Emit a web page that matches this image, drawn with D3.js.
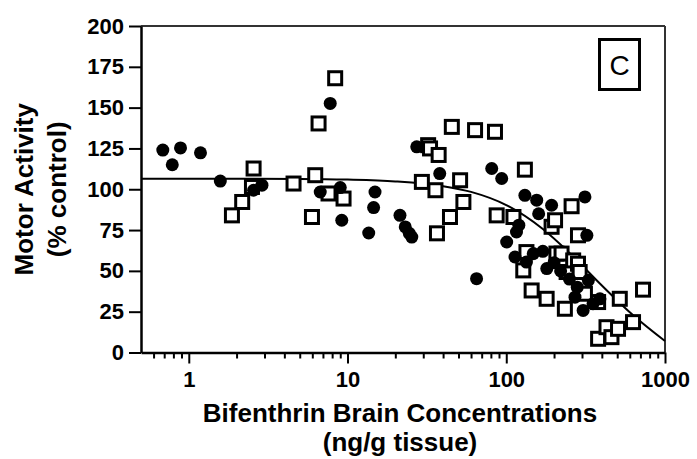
<!DOCTYPE html>
<html><head><meta charset="utf-8">
<script src="https://cdn.jsdelivr.net/npm/d3@7/dist/d3.min.js"></script>
<style>body{margin:0;background:#fff}svg{display:block}text{font-family:"Liberation Sans",Arial,sans-serif}</style>
</head><body>
<svg id="c" width="697" height="459"></svg>
<script>
// filled circles: [concentration ng/g, % control]
const circleConc = [0.686,0.787,0.887,1.185,1.58,2.56,2.89,6.73,7.78,9.0,9.2,13.6,14.6,14.9,21.4,23.1,24.5,25.4,27.3,38.1,65,81,93.6,100.6,113.5,116,120,131,134,148,155.5,160,170,180,193,200,220,250,271,280,305,313,322,329,352,389];
const circleAct  = [124,115,125.3,122.3,105,99.4,102.5,98.3,152.6,101,81,73.2,88.8,98.3,84,76.9,73,70.7,126,109.6,45.2,112.7,106.6,67.7,58.5,73.8,78,96.3,55.4,60.6,93.3,85,62,51.4,90.2,55,50,45,33.9,40,25.8,95.3,71.8,44.2,29.9,32.9];
// open squares
const squareConc = [1.87,2.17,2.5,2.56,4.57,5.97,6.26,6.57,7.59,8.36,9.44,29.4,32.2,33.1,35.8,36.6,37.5,44.2,45.4,51.2,53.7,63.6,84.9,87,111,128,131,134,144.5,179.6,193,203,207,223,234,240,258,264,283,283,290,313,379,379,428,460,506,519,629,727];
const squareAct  = [84,92.2,101.4,112.7,103.5,83,108.6,140.3,97.4,168,94.3,104.5,127,125,99.4,73,121,83,138.2,105.5,92.2,136.2,135.2,84,83,50.3,112,61.5,38,32.9,77,81,60.6,60.6,26.8,49.3,89.6,56.4,71.8,54.4,49.3,36,30.9,8.4,15.5,9.4,14.5,32.9,18.6,38.5];
// fitted curve
const curveConc = [0.5,5,10,20,40,60,100,170,250,390,630,1000];
const curveAct  = [106.5,106.3,105.9,104.8,101.9,98.4,90.3,75.6,61,42.1,22.8,7];
const yTicks = [0,25,50,75,100,125,150,175,200];
const xMajor = [1,10,100,1000];
const xLabels = ["1","10","100","1000"];

const svg = d3.select("#c");
const L=141, R=665, T=26, B=352.5;
const x = d3.scaleLog().domain([0.5,1000]).range([L,R]);
const y = d3.scaleLinear().domain([0,200]).range([B,T]);

// frame top/right
svg.append("line").attr("x1",L).attr("x2",R).attr("y1",T).attr("y2",T).attr("stroke","#333").attr("stroke-width",2);
svg.append("line").attr("x1",R).attr("x2",R).attr("y1",T).attr("y2",B).attr("stroke","#333").attr("stroke-width",2);

// y axis
const ya = svg.append("g").attr("transform",`translate(${L},0)`)
  .call(d3.axisLeft(y).tickValues(yTicks).tickSize(12).tickPadding(5).tickSizeOuter(0));
ya.select(".domain").attr("stroke","#000").attr("stroke-width",2.5);
ya.selectAll(".tick line").attr("stroke","#000").attr("stroke-width",2);
ya.selectAll(".tick text").attr("font-size",22).attr("font-weight","bold").attr("fill","#000").attr("font-family","Liberation Sans, Arial");

// x axis minor
const minor = x.ticks().filter(v=>!xMajor.includes(v) && v>0.55);
const xa = svg.append("g").attr("transform",`translate(0,${B})`);
xa.call(d3.axisBottom(x).tickValues(minor).tickSize(6).tickFormat("").tickSizeOuter(0));
xa.selectAll(".tick line").attr("stroke","#000").attr("stroke-width",2);
xa.select(".domain").remove();
const xb = svg.append("g").attr("transform",`translate(0,${B})`)
  .call(d3.axisBottom(x).tickValues(xMajor).tickFormat((d,i)=>xLabels[i]).tickSize(11).tickPadding(8).tickSizeOuter(0));
xb.select(".domain").attr("stroke","#000").attr("stroke-width",2.5);
xb.selectAll(".tick line").attr("stroke","#000").attr("stroke-width",2);
xb.selectAll(".tick text").attr("font-size",22).attr("font-weight","bold").attr("fill","#000").attr("font-family","Liberation Sans, Arial");

// curve
const pts = curveConc.map((c,i)=>[c,curveAct[i]]);
svg.append("path").datum(pts)
  .attr("d",d3.line().x(d=>x(d[0])).y(d=>y(d[1])).curve(d3.curveMonotoneX))
  .attr("fill","none").attr("stroke","#000").attr("stroke-width",2);

// squares
const sq = squareConc.map((c,i)=>[c,squareAct[i]]);
svg.append("g").selectAll("rect").data(sq).join("rect")
  .attr("x",d=>x(d[0])-6.5).attr("y",d=>y(d[1])-6.5).attr("width",13).attr("height",13)
  .attr("fill","#fff").attr("stroke","#000").attr("stroke-width",3);
// circles
const ci = circleConc.map((c,i)=>[c,circleAct[i]]);
svg.append("g").selectAll("circle").data(ci).join("circle")
  .attr("cx",d=>x(d[0])).attr("cy",d=>y(d[1])).attr("r",6.5).attr("fill","#000");

// panel label
svg.append("rect").attr("x",599.5).attr("y",39.5).attr("width",40).attr("height",50).attr("fill","#fff").attr("stroke","#000").attr("stroke-width",3);
svg.append("text").attr("x",619.5).attr("y",75).attr("text-anchor","middle").attr("font-size",28).text("C");

// titles
svg.append("text").attr("x",400).attr("y",422).attr("text-anchor","middle").attr("font-size",26).attr("font-weight","bold").text("Bifenthrin Brain Concentrations");
svg.append("text").attr("x",400).attr("y",451).attr("text-anchor","middle").attr("font-size",26).attr("font-weight","bold").text("(ng/g tissue)");
svg.append("text").attr("transform",`translate(33,${(T+B)/2}) rotate(-90)`).attr("text-anchor","middle").attr("font-size",26).attr("font-weight","bold").text("Motor Activity");
svg.append("text").attr("transform",`translate(66,${(T+B)/2}) rotate(-90)`).attr("text-anchor","middle").attr("font-size",26).attr("font-weight","bold").text("(% control)");
</script>
</body></html>
